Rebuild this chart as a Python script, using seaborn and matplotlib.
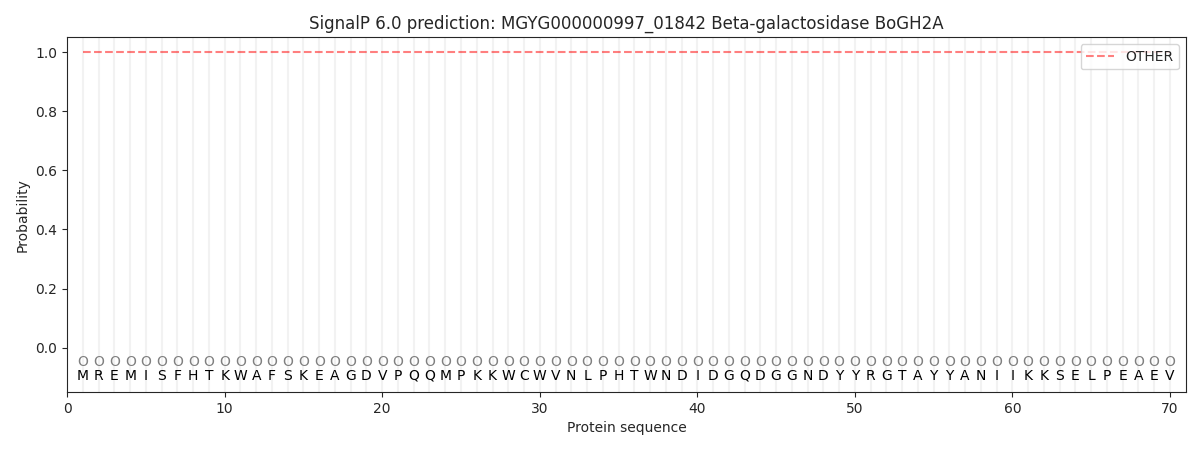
import matplotlib
matplotlib.use("Agg")
import matplotlib.pyplot as plt
import seaborn as sns
import pandas as pd
import numpy as np

# sequence and per-position probabilities
sequence = list("MREMISFHTKWAFSKEAGDVPQQMPKKWCWVNLPHTWNDIDGQDGGNDYYRGTAYYANIIKKSELPEAEV")
positions = list(range(1, len(sequence) + 1))
prob_other = [1.0] * len(sequence)
region_labels = ["O"] * len(sequence)

df = pd.DataFrame({"pos": positions, "OTHER": prob_other})

sns.set_style("ticks")
plt.rcParams["font.family"] = ["DejaVu Sans"]

fig, ax = plt.subplots(figsize=(12, 4.5), dpi=100)

# light grid line at each residue
for p in positions:
    ax.axvline(p, color="#f2f2f2", linewidth=1.5, zorder=0)

sns.lineplot(data=df, x="pos", y="OTHER", ax=ax, color="red", alpha=0.5,
             linestyle="--", label="OTHER")

for p, aa, lab in zip(positions, sequence, region_labels):
    ax.text(p, -0.05, lab, ha="center", va="center", fontsize=10, color="grey")
    ax.text(p, -0.095, aa, ha="center", va="center", fontsize=10, color="black")

ax.set_xlim(0, len(sequence) + 1)
ax.set_ylim(-0.15, 1.05)
ax.set_xlabel("Protein sequence")
ax.set_ylabel("Probability")
ax.set_title("SignalP 6.0 prediction: MGYG000000997_01842 Beta-galactosidase BoGH2A")
ax.legend(loc="upper right")

plt.subplots_adjust(left=0.056, right=0.988, top=0.917, bottom=0.129)
plt.savefig("out.png")
